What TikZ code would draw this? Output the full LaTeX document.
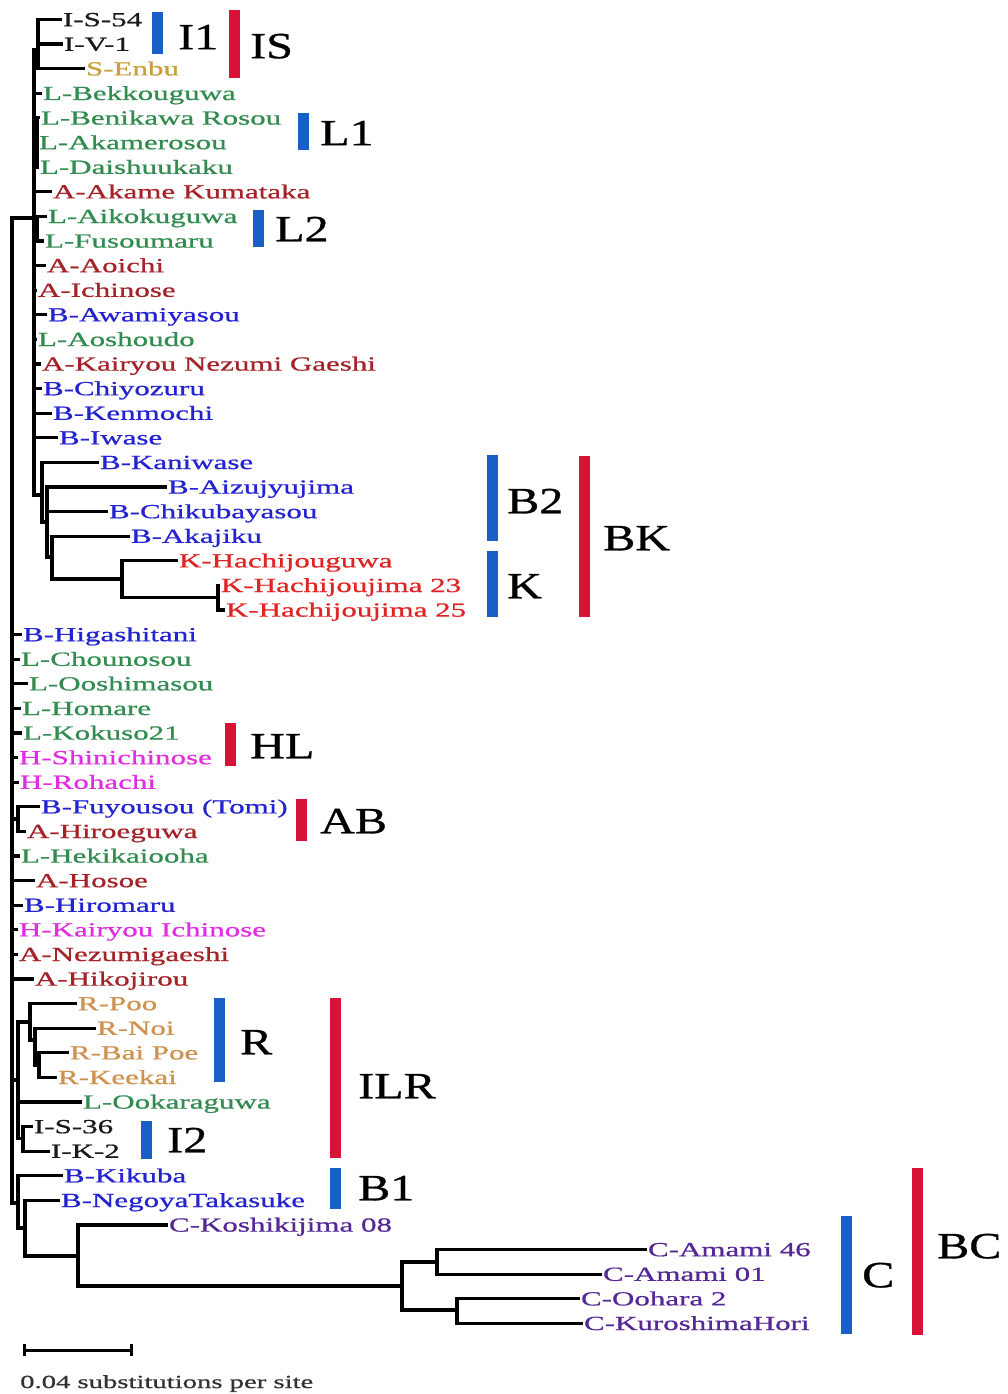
\documentclass[tikz,border=0pt]{standalone}
\usepackage{fontspec}
\setmainfont{Liberation Serif}[FakeStretch=1.55,FakeBold=0.8]
\newfontfamily\bigfont{Liberation Serif}[FakeStretch=1.3,FakeBold=0.8]
\usetikzlibrary{arrows.meta}
\definecolor{Ic}{RGB}{25,25,25}
\definecolor{Sc}{RGB}{200,160,60}
\definecolor{Lc}{RGB}{50,140,80}
\definecolor{Ac}{RGB}{165,35,40}
\definecolor{Bc}{RGB}{35,35,210}
\definecolor{Kc}{RGB}{225,35,35}
\definecolor{Hc}{RGB}{225,45,225}
\definecolor{Rc}{RGB}{205,145,80}
\definecolor{Cc}{RGB}{85,40,150}
\definecolor{barblue}{RGB}{25,95,200}
\definecolor{barred}{RGB}{215,20,55}
\definecolor{sbc}{RGB}{50,50,50}
\begin{document}
\begin{tikzpicture}[x=1pt,y=-1pt,
  br/.style={line width=3.2pt},
  leaf/.style={anchor=west, inner sep=0pt, outer xsep=1pt, text height=13.4pt, text depth=0pt, font=\fontsize{20}{24}\selectfont},
  biglab/.style={anchor=west, inner sep=0pt, text height=24.5pt, text depth=0pt, text=black, font=\bigfont\fontsize{37}{40}\selectfont},
  bbar/.style={fill=barblue, draw=none, inner sep=0pt, minimum width=11pt},
  rbar/.style={fill=barred, draw=none, inner sep=0pt, minimum width=11pt}]
\useasboundingbox[fill=white] (0,0) rectangle (1007,1394);

% leaves
\node[leaf,Ic] (l1) at (62,19.5) {I-S-54};
\node[leaf,Ic] (l2) at (63,44.1) {I-V-1};
\node[leaf,Sc] (l3) at (85,68.7) {S-Enbu};
\node[leaf,Lc] (l4) at (42,93.3) {L-Bekkouguwa};
\node[leaf,Lc] (l5) at (40,117.9) {L-Benikawa Rosou};
\node[leaf,Lc] (l6) at (38,142.5) {L-Akamerosou};
\node[leaf,Lc] (l7) at (39,167.1) {L-Daishuukaku};
\node[leaf,Ac] (l8) at (52,191.7) {A-Akame Kumataka};
\node[leaf,Lc] (l9) at (47,216.3) {L-Aikokuguwa};
\node[leaf,Lc] (l10) at (44,240.9) {L-Fusoumaru};
\node[leaf,Ac] (l11) at (46,265.5) {A-Aoichi};
\node[leaf,Ac] (l12) at (37,290.1) {A-Ichinose};
\node[leaf,Bc] (l13) at (47,314.7) {B-Awamiyasou};
\node[leaf,Lc] (l14) at (37,339.3) {L-Aoshoudo};
\node[leaf,Ac] (l15) at (41,363.9) {A-Kairyou Nezumi Gaeshi};
\node[leaf,Bc] (l16) at (42,388.5) {B-Chiyozuru};
\node[leaf,Bc] (l17) at (52,413.1) {B-Kenmochi};
\node[leaf,Bc] (l18) at (58,437.7) {B-Iwase};
\node[leaf,Bc] (l19) at (99,462.3) {B-Kaniwase};
\node[leaf,Bc] (l20) at (167,486.9) {B-Aizujyujima};
\node[leaf,Bc] (l21) at (108,511.5) {B-Chikubayasou};
\node[leaf,Bc] (l22) at (130,536.1) {B-Akajiku};
\node[leaf,Kc] (l23) at (178,560.7) {K-Hachijouguwa};
\node[leaf,Kc] (l24) at (220,585.3) {K-Hachijoujima 23};
\node[leaf,Kc] (l25) at (225,609.9) {K-Hachijoujima 25};
\node[leaf,Bc] (l26) at (22,634.5) {B-Higashitani};
\node[leaf,Lc] (l27) at (20,659.1) {L-Chounosou};
\node[leaf,Lc] (l28) at (28,683.7) {L-Ooshimasou};
\node[leaf,Lc] (l29) at (21,708.3) {L-Homare};
\node[leaf,Lc] (l30) at (22,732.9) {L-Kokuso21};
\node[leaf,Hc] (l31) at (18,757.5) {H-Shinichinose};
\node[leaf,Hc] (l32) at (19,782.1) {H-Rohachi};
\node[leaf,Bc] (l33) at (40,806.7) {B-Fuyousou (Tomi)};
\node[leaf,Ac] (l34) at (26,831.3) {A-Hiroeguwa};
\node[leaf,Lc] (l35) at (20,855.9) {L-Hekikaiooha};
\node[leaf,Ac] (l36) at (35,880.5) {A-Hosoe};
\node[leaf,Bc] (l37) at (23,905.1) {B-Hiromaru};
\node[leaf,Hc] (l38) at (18,929.7) {H-Kairyou Ichinose};
\node[leaf,Ac] (l39) at (18,954.3) {A-Nezumigaeshi};
\node[leaf,Ac] (l40) at (34,978.9) {A-Hikojirou};
\node[leaf,Rc] (l41) at (77,1003.5) {R-Poo};
\node[leaf,Rc] (l42) at (96,1028.1) {R-Noi};
\node[leaf,Rc] (l43) at (69,1052.7) {R-Bai Poe};
\node[leaf,Rc] (l44) at (57,1077.3) {R-Keekai};
\node[leaf,Lc] (l45) at (82,1101.9) {L-Ookaraguwa};
\node[leaf,Ic] (l46) at (33,1126.5) {I-S-36};
\node[leaf,Ic] (l47) at (50,1151.1) {I-K-2};
\node[leaf,Bc] (l48) at (63,1175.7) {B-Kikuba};
\node[leaf,Bc] (l49) at (60,1200.3) {B-NegoyaTakasuke};
\node[leaf,Cc] (l50) at (168,1224.9) {C-Koshikijima 08};
\node[leaf,Cc] (l51) at (647,1249.5) {C-Amami 46};
\node[leaf,Cc] (l52) at (602,1274.1) {C-Amami 01};
\node[leaf,Cc] (l53) at (580,1298.7) {C-Oohara 2};
\node[leaf,Cc] (l54) at (583,1323.3) {C-KuroshimaHori};

% internal nodes
\coordinate (nRoot) at (12,700);
\coordinate (nTop) at (34,218);
\coordinate (nI1) at (38,50);
\coordinate (nL1) at (37,142.5);
\coordinate (nL2) at (37,228.6);
\coordinate (nBK) at (42,495);
\coordinate (nCh) at (47,522);
\coordinate (nAk) at (52,557);
\coordinate (nK) at (122,579);
\coordinate (nK2) at (218,597.6);
\coordinate (nB33) at (18,819);
\coordinate (nILR) at (18,1080);
\coordinate (nR) at (30,1022);
\coordinate (nRs) at (35,1040);
\coordinate (nRss) at (39,1065);
\coordinate (nI2) at (23,1138.8);
\coordinate (nBC) at (18,1203);
\coordinate (nBNC) at (25,1228);
\coordinate (nCall) at (78,1256);
\coordinate (nC) at (402,1286);
\coordinate (nCa) at (437,1262);
\coordinate (nCb) at (457,1310);

% branches
\foreach \c in {nTop,nB33,nILR,nBC} \draw[br] (nRoot) |- (\c);
\foreach \c in {l26,l27,l28,l29,l30,l31,l32,l35,l36,l37,l38,l39,l40} \draw[br] (nRoot) |- (\c.west);
\foreach \c in {nI1,nL1,nL2,nBK} \draw[br] (nTop) |- (\c);
\foreach \c in {l4,l8,l11,l12,l13,l14,l15,l16,l17,l18} \draw[br] (nTop) |- (\c.west);
\foreach \c in {l1,l2,l3} \draw[br] (nI1) |- (\c.west);
\foreach \c in {l5,l6,l7} \draw[br] (nL1) |- (\c.west);
\foreach \c in {l9,l10} \draw[br] (nL2) |- (\c.west);
\draw[br] (nBK) |- (l19.west); \draw[br] (nBK) |- (nCh);
\foreach \c in {l20,l21} \draw[br] (nCh) |- (\c.west);
\draw[br] (nCh) |- (nAk);
\draw[br] (nAk) |- (l22.west); \draw[br] (nAk) |- (nK);
\draw[br] (nK) |- (l23.west); \draw[br] (nK) |- (nK2);
\foreach \c in {l24,l25} \draw[br] (nK2) |- (\c.west);
\foreach \c in {l33,l34} \draw[br] (nB33) |- (\c.west);
\draw[br] (nILR) |- (nR); \draw[br] (nILR) |- (l45.west); \draw[br] (nILR) |- (nI2);
\draw[br] (nR) |- (l41.west); \draw[br] (nR) |- (nRs);
\draw[br] (nRs) |- (l42.west); \draw[br] (nRs) |- (nRss);
\foreach \c in {l43,l44} \draw[br] (nRss) |- (\c.west);
\foreach \c in {l46,l47} \draw[br] (nI2) |- (\c.west);
\draw[br] (nBC) |- (l48.west); \draw[br] (nBC) |- (nBNC);
\draw[br] (nBNC) |- (l49.west); \draw[br] (nBNC) |- (nCall);
\draw[br] (nCall) |- (l50.west); \draw[br] (nCall) |- (nC);
\draw[br] (nC) |- (nCa); \draw[br] (nC) |- (nCb);
\foreach \c in {l51,l52} \draw[br] (nCa) |- (\c.west);
\foreach \c in {l53,l54} \draw[br] (nCb) |- (\c.west);

% clade bars
\node[bbar, minimum height=42pt] (bI1) at (157,33) {};
\node[rbar, minimum height=68pt] (bIS) at (234,44) {};
\node[bbar, minimum height=37pt] (bL1) at (303,131.5) {};
\node[bbar, minimum height=37pt] (bL2) at (258,228.5) {};
\node[bbar, minimum height=86pt] (bB2) at (492,498) {};
\node[bbar, minimum height=66pt] (bK) at (492,584) {};
\node[rbar, minimum height=161pt] (bBK) at (584,536.5) {};
\node[rbar, minimum height=43pt] (bHL) at (230,744.5) {};
\node[rbar, minimum height=42pt] (bAB) at (301,820) {};
\node[bbar, minimum height=84pt] (bR) at (219,1040) {};
\node[rbar, minimum height=160pt] (bILR) at (335,1078) {};
\node[bbar, minimum height=38pt] (bI2) at (146,1140) {};
\node[bbar, minimum height=41pt] (bB1) at (335,1188.5) {};
\node[bbar, minimum height=118pt] (bC) at (846,1275) {};
\node[rbar, minimum height=167pt] (bBC) at (917,1251.5) {};

% clade labels
\node[biglab] (tI1) at (178,37) {I1};
\node[biglab] (tIS) at (250,46) {IS};
\node[biglab] (tL1) at (320,133) {L1};
\node[biglab] (tL2) at (275,229) {L2};
\node[biglab] (tB2) at (507,501) {B2};
\node[biglab] (tK) at (507,586) {K};
\node[biglab] (tBK) at (603,538) {BK};
\node[biglab] (tHL) at (250,746) {HL};
\node[biglab] (tAB) at (320,821) {AB};
\node[biglab] (tR) at (240,1042) {R};
\node[biglab] (tILR) at (358,1086) {ILR};
\node[biglab] (tI2) at (167,1140) {I2};
\node[biglab] (tB1) at (358,1188) {B1};
\node[biglab] (tC) at (862,1275) {C};
\node[biglab] (tBC) at (937,1246) {BC};

% scale bar
\coordinate (sbL) at (23,1350);
\coordinate (sbR) at (133,1350);
\draw[line width=3pt, {Bar[width=12pt,line width=3pt]}-{Bar[width=12pt,line width=3pt]}] (sbL) -- (sbR);
\node[anchor=base west, inner sep=0pt, text=sbc, font=\fontsize{18.5}{22}\selectfont] (sbt) at (20,1388) {0.04 substitutions per site};
\end{tikzpicture}
\end{document}
